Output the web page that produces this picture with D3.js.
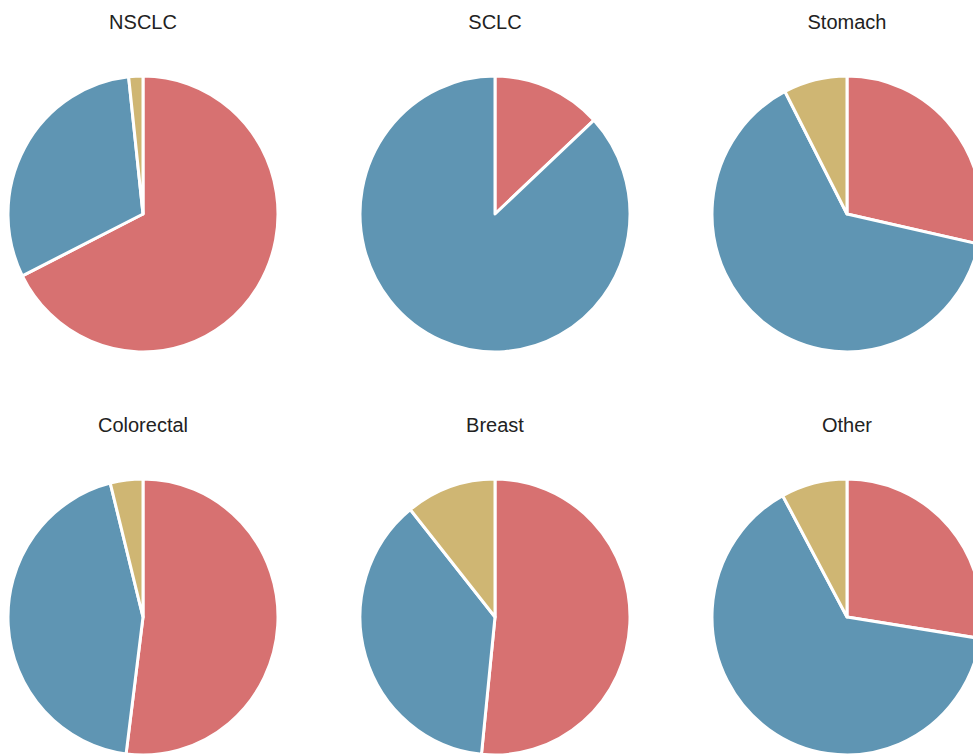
<!DOCTYPE html>
<html>
<head>
<meta charset="utf-8">
<script src="https://cdn.jsdelivr.net/npm/d3@7"></script>
<style>
  html, body { margin: 0; padding: 0; background: #fff; overflow: hidden; }
  text { font-family: "Liberation Sans", Arial, sans-serif; }
</style>
</head>
<body>
<div id="chart"></div>
<script>
// panel titles and slice shares (percent), order: red, blue, tan
const titles = ["NSCLC", "SCLC", "Stomach", "Colorectal", "Breast", "Other"];
const groups = ["A", "B", "C"];
const redVals  = [67.6, 13.1, 28.5, 52.0, 51.6, 27.5];
const blueVals = [30.7, 86.9, 63.9, 44.1, 37.6, 64.6];
const tanVals  = [1.7, 0.0, 7.6, 3.9, 10.8, 7.9];

const width = 973, height = 755;
const colors = d3.scaleOrdinal().domain(groups).range(["#d77171", "#5f95b3", "#cfb673"]);

const svg = d3.select("#chart").append("svg")
  .attr("width", width)
  .attr("height", height);

// panel layout
const cols = d3.scalePoint().domain([0, 1, 2]).range([143, 847]);
const rows = d3.scalePoint().domain([0, 1]).range([214, 617]);
const rx = 135, ry = 138;

const pie = d3.pie().sort(null).value(d => d.v);
const arc = d3.arc().innerRadius(0).outerRadius(rx);

titles.forEach((t, i) => {
  const cx = cols(i % 3), cy = rows(Math.floor(i / 3));
  const data = [
    { k: "A", v: redVals[i] },
    { k: "B", v: blueVals[i] },
    { k: "C", v: tanVals[i] }
  ];

  svg.append("text")
    .attr("x", cx)
    .attr("y", cy - 185)
    .attr("text-anchor", "middle")
    .attr("font-size", 20)
    .attr("fill", "#222")
    .text(t);

  const g = svg.append("g")
    .attr("transform", `translate(${cx},${cy}) scale(1,${ry / rx})`);

  g.selectAll("path").data(pie(data).filter(d => d.data.v > 0))
    .join("path")
    .attr("d", arc)
    .attr("fill", d => colors(d.data.k))
    .attr("stroke", "#fff")
    .attr("stroke-width", 3)
    .attr("stroke-linejoin", "round");
});
</script>
</body>
</html>
